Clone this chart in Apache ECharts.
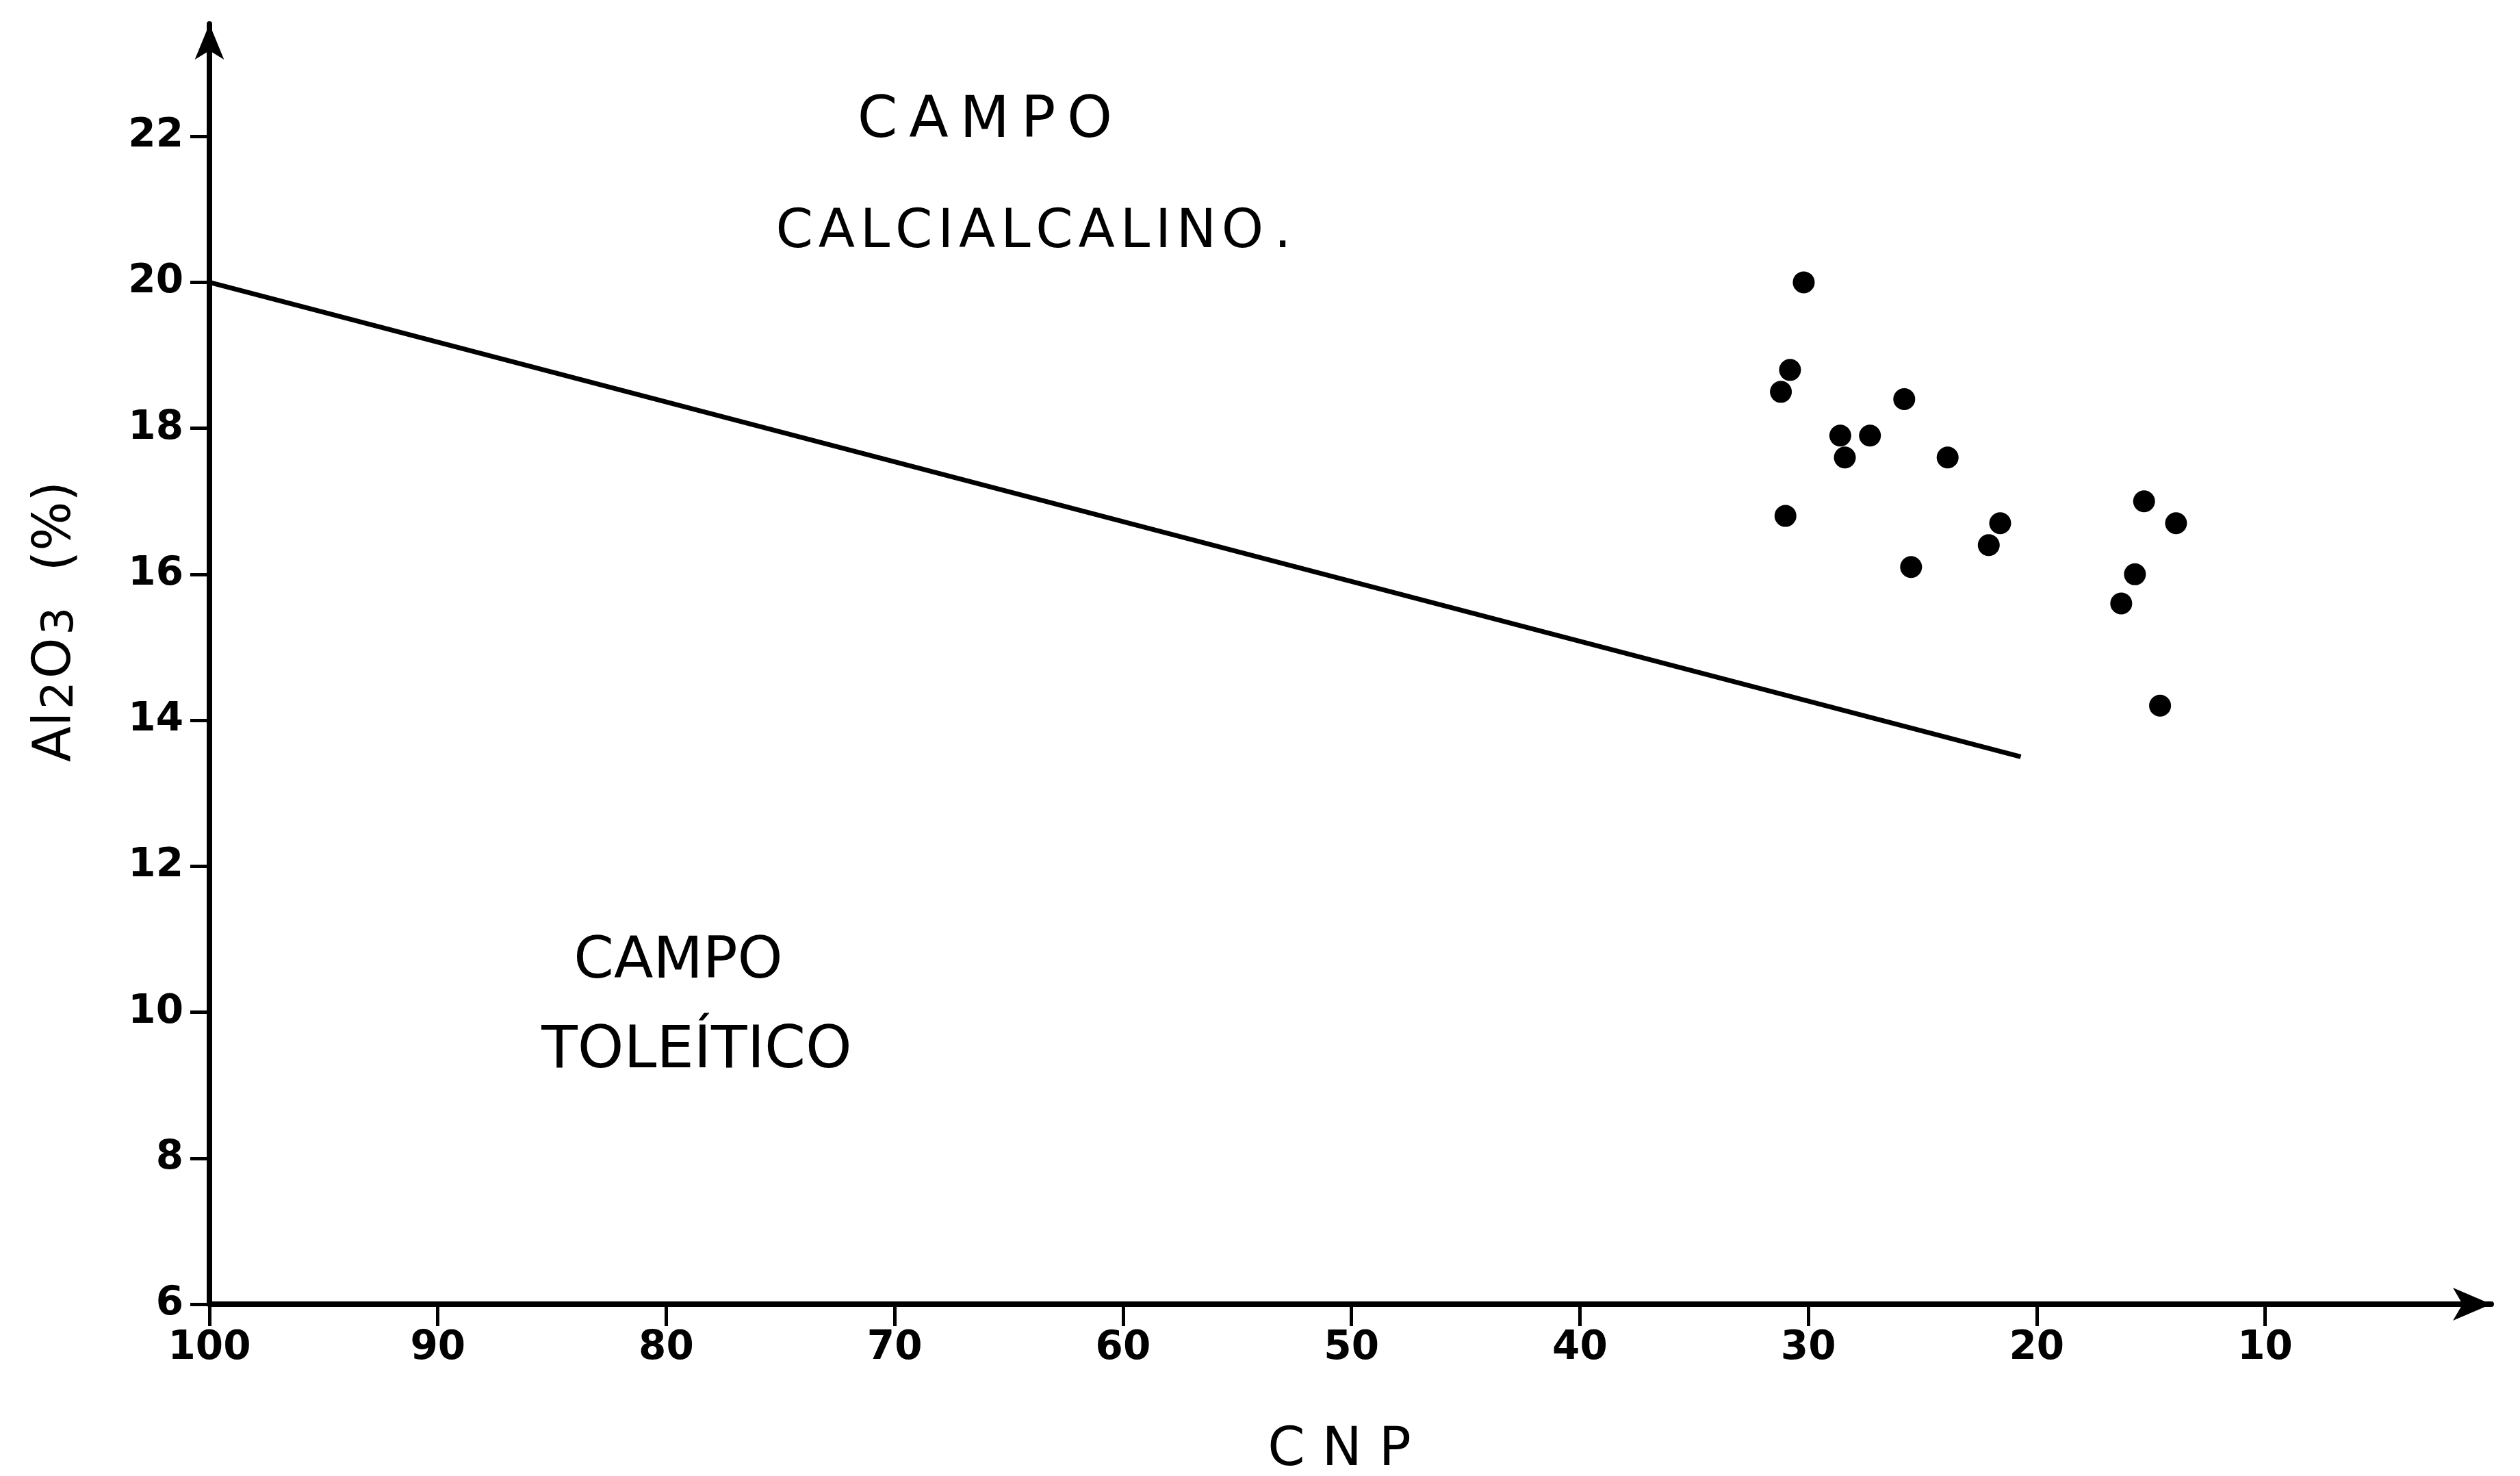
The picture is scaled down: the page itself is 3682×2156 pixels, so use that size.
<!DOCTYPE html>
<html>
<head>
<meta charset="utf-8">
<script src="https://cdn.jsdelivr.net/npm/echarts@6/dist/echarts.min.js"></script>
<style>
  html, body { margin: 0; padding: 0; background: #ffffff; }
  #chart { width: 3682px; height: 2156px; }
</style>
</head>
<body>
<div id="chart"></div>
<script>
// ---- data ----
const xTicks = [100, 90, 80, 70, 60, 50, 40, 30, 20, 10];
const yTicks = [6, 8, 10, 12, 14, 16, 18, 20, 22];
// CNP values of the samples
const sampleCNP = [30.2, 30.8, 31.2, 28.6, 27.3, 28.4, 25.8, 23.9, 31.0, 25.5, 22.1, 21.6, 15.3, 13.9, 15.7, 16.3, 14.6];
// Al2O3 (%) values of the samples
const sampleAl2O3 = [20.0, 18.8, 18.5, 17.9, 17.9, 17.6, 18.4, 17.6, 16.8, 16.1, 16.4, 16.7, 17.0, 16.7, 16.0, 15.6, 14.2];
// boundary line between the two fields (CNP, Al2O3)
const boundaryCNP = [100, 20.7];
const boundaryAl2O3 = [20.0, 13.5];

const points = sampleCNP.map((v, i) => [v, sampleAl2O3[i]]);
const boundary = boundaryCNP.map((v, i) => [v, boundaryAl2O3[i]]);

const FONT = "'DejaVu Sans', sans-serif";
const chart = echarts.init(document.getElementById('chart'), null, { renderer: 'canvas' });

chart.setOption({
  backgroundColor: '#ffffff',
  animation: false,
  grid: { left: 306, right: 42, top: 35, bottom: 251, containLabel: false, outerBoundsMode: 'none' },
  xAxis: {
    type: 'value',
    inverse: true,
    min: 0.1,
    max: 100,
    name: 'C N P',
    nameLocation: 'middle',
    nameGap: 176,
    nameTextStyle: { fontFamily: FONT, fontSize: 78, color: '#000', padding: [0, 32, 0, 0] },
    axisLine: {
      show: true,
      lineStyle: { color: '#000', width: 8 },
      symbol: ['none', 'arrow'],
      symbolSize: [36, 56]
    },
    axisTick: { show: true, length: 32, lineStyle: { color: '#000', width: 5 }, customValues: xTicks },
    axisLabel: { show: true, margin: 36, fontFamily: FONT, fontWeight: 'bold', fontSize: 58, color: '#000', customValues: xTicks },
    splitLine: { show: false }
  },
  yAxis: {
    type: 'value',
    min: 6,
    max: 23.54,
    name: '{n|Al}{s|2}{n|O}{s|3}{n|  (%)}',
    nameLocation: 'middle',
    nameRotate: 90,
    nameGap: 185,
    nameTextStyle: {
      fontFamily: FONT, fontSize: 76, color: '#000',
      padding: [0, 0, 0, 124],
      rich: {
        n: { fontFamily: FONT, fontSize: 76, color: '#000', verticalAlign: 'middle' },
        s: { fontFamily: FONT, fontSize: 64, color: '#000', verticalAlign: 'bottom', padding: [14, 4, 0, 4] }
      }
    },
    axisLine: {
      show: true,
      lineStyle: { color: '#000', width: 8 },
      symbol: ['none', 'arrow'],
      symbolSize: [32, 52]
    },
    axisTick: { show: true, length: 28, lineStyle: { color: '#000', width: 5 }, customValues: yTicks },
    axisLabel: { show: true, margin: 38, fontFamily: FONT, fontWeight: 'bold', fontSize: 58, color: '#000', customValues: yTicks },
    splitLine: { show: false }
  },
  graphic: [
    { type: 'text', x: 1439, y: 178, style: { text: 'C\u2009A\u2009M\u2009P\u2009O', font: "84px 'DejaVu Sans', sans-serif", fill: '#000', align: 'center', verticalAlign: 'middle' } },
    { type: 'text', x: 1510, y: 341, style: { text: 'C\u200aA\u200aL\u200aC\u200aI\u200aA\u200aL\u200aC\u200aA\u200aL\u200aI\u200aN\u200aO\u2009.', font: "78px 'DejaVu Sans', sans-serif", fill: '#000', align: 'center', verticalAlign: 'middle' } },
    { type: 'text', x: 991, y: 1406, style: { text: 'CAMPO', font: "84px 'DejaVu Sans', sans-serif", fill: '#000', align: 'center', verticalAlign: 'middle' } },
    { type: 'text', x: 1018, y: 1537, style: { text: 'TOLE\u00cdTICO', font: "86px 'DejaVu Sans', sans-serif", fill: '#000', align: 'center', verticalAlign: 'middle' } }
  ],
  series: [
    {
      name: 'Limite',
      type: 'line',
      data: boundary,
      symbol: 'none',
      lineStyle: { color: '#000', width: 7 },
      z: 3
    },
    {
      name: 'Amostras',
      type: 'scatter',
      data: points,
      symbol: 'circle',
      symbolSize: 32,
      itemStyle: { color: '#000', opacity: 1 },
      z: 4
    }
  ]
});
</script>
</body>
</html>
